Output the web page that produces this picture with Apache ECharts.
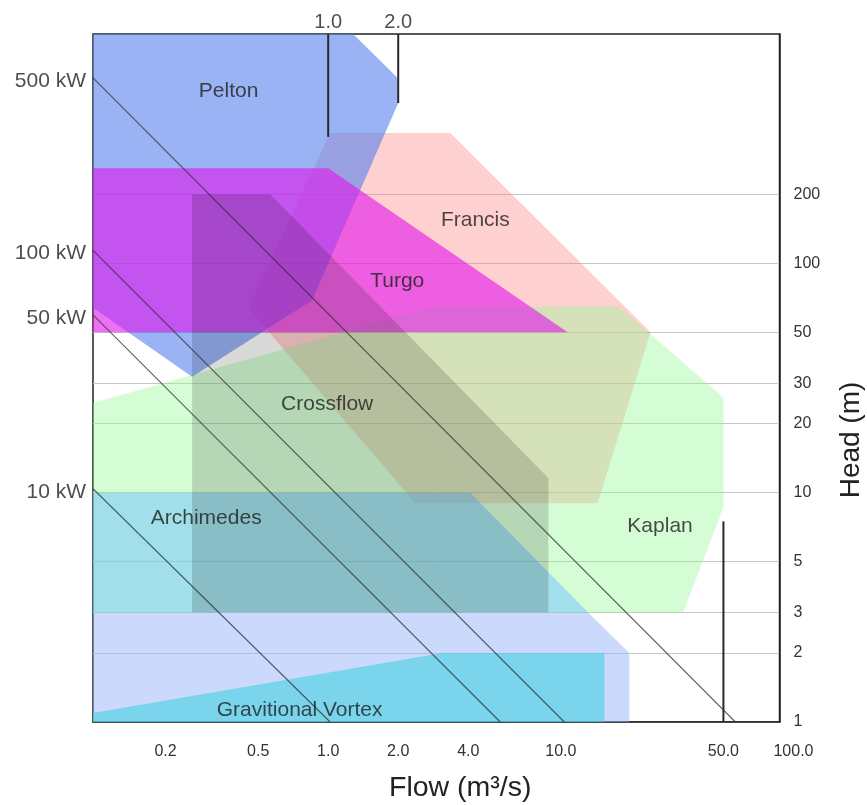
<!DOCTYPE html>
<html><head><meta charset="utf-8">
<script src="https://cdn.jsdelivr.net/npm/echarts@6/dist/echarts.min.js"></script>
<style>html,body{margin:0;padding:0;background:#fff}#chart{width:867px;height:805px}</style>
</head><body><div id="chart"></div>
<script>
// ---- axis extents (flow in m3/s, head in m) ----
const flowRange = [0.0975, 87.1];
const headRange = [1, 1000];

// ---- tick labels ----
const xTickValues = [0.2, 0.5, 1, 2, 4, 10, 50, 100];
const xTickLabels = ['0.2', '0.5', '1.0', '2.0', '4.0', '10.0', '50.0', '100.0'];
const yTickValues = [1, 2, 3, 5, 10, 20, 30, 50, 100, 200];
const yTickLabels = ['1', '2', '3', '5', '10', '20', '30', '50', '100', '200'];

// ---- turbine application regions, vertices as [flow, head] ----
const francis     = [[1.02, 370], [3.35, 370], [24.3, 50], [14.4, 9], [2.37, 9], [0.453, 64]];
const kaplan      = [[0.0975, 24.6], [2.89, 65], [17.7, 65], [50, 26], [50, 8.66], [33.6, 3], [0.0975, 3]];
const pelton      = [[0.0975, 1000], [1.28, 1000], [2, 640], [2, 500], [0.853, 69], [0.26, 32], [0.0975, 64]];
const turgo       = [[0.0975, 260], [1, 260], [10.7, 50], [0.0975, 50]];
const archimedes  = [[0.0975, 10], [4.08, 10], [13.1, 3], [0.0975, 3]];
const crossflow   = [[0.26, 200], [0.563, 200], [8.84, 11.6], [8.84, 3], [0.26, 3]];
const vortexOuter = [[0.0975, 3], [13.1, 3], [19.7, 2], [19.7, 1], [0.0975, 1]];
const vortexInner = [[0.0975, 1.094], [3.1, 2], [15.4, 2], [15.4, 1], [0.0975, 1]];

// ---- region names and label anchors ----
const regionNames     = ['Pelton', 'Francis', 'Turgo', 'Crossflow', 'Archimedes', 'Kaplan', 'Gravitional Vortex'];
const regionLabelFlow = [0.373, 4.29, 1.98, 0.99, 0.299, 26.7, 0.754];
const regionLabelHead = [562, 154.6, 83.8, 24.4, 7.76, 7.16, 1.128];

// ---- constant power lines ----
const powerLabels    = ['500 kW', '100 kW', '50 kW', '10 kW'];
const powerStartFlow = [0.0975, 0.0975, 0.0975, 0.0975];
const powerStartHead = [643, 114, 59.6, 10.4];
const powerEndFlow   = [56.3, 10.35, 5.49, 1.02];
const powerEndHead   = [1, 1, 1, 1];

// ---- flow limit markers ----
const limitLabels     = ['1.0', '2.0', ''];
const limitFlow       = [1, 2, 50];
const limitHeadTop    = [1000, 1000, 7.5];
const limitHeadBottom = [356, 500, 1];

const L = Math.log10;
const FONT = 'Liberation Sans, Arial, Helvetica, sans-serif';

function fmt(values, labels) {
  return function (v) {
    const i = values.findIndex(t => Math.abs(L(t) - v) < 1e-6);
    return i >= 0 ? labels[i] : '';
  };
}

function polygonSeries(name, pts, color) {
  return {
    type: 'custom', name: name, silent: true, clip: true,
    data: pts.map(p => [L(p[0]), L(p[1])]),
    encode: { x: 0, y: 1 },
    renderItem: function (params, api) {
      if (params.dataIndex !== 0) return null;
      const points = pts.map(p => api.coord([L(p[0]), L(p[1])]));
      return { type: 'polygon', shape: { points: points }, style: { fill: color } };
    }
  };
}

const series = [
  polygonSeries('Francis', francis, 'rgba(255,120,120,0.35)'),
  polygonSeries('Kaplan', kaplan, 'rgba(150,250,150,0.4)'),
  polygonSeries('Pelton', pelton, 'rgba(85,128,238,0.6)'),
  polygonSeries('Turgo', turgo, 'rgba(225,20,235,0.6)'),
  polygonSeries('Archimedes', archimedes, 'rgba(110,195,255,0.5)'),
  polygonSeries('Crossflow', crossflow, 'rgba(0,0,0,0.15)'),
  polygonSeries('Gravitional Vortex outer', vortexOuter, 'rgba(150,180,250,0.5)'),
  polygonSeries('Gravitional Vortex', vortexInner, 'rgba(68,208,225,0.6)')
];

// power lines
powerLabels.forEach((lab, i) => {
  series.push({
    type: 'line', name: lab, silent: true, clip: false, showSymbol: false, symbol: 'none',
    data: [[L(powerStartFlow[i]), L(powerStartHead[i])], [L(powerEndFlow[i]), L(powerEndHead[i])]],
    lineStyle: { color: 'rgba(45,45,45,0.75)', width: 1.1 },
    z: 5
  });
});
series.push({
  type: 'scatter', silent: true, clip: false, symbolSize: 0, z: 6,
  data: powerLabels.map((lab, i) => ({ name: lab, value: [L(powerStartFlow[i]), L(powerStartHead[i])] })),
  label: { show: true, position: 'left', distance: 7, offset: [0, 3], formatter: '{b}', fontFamily: FONT, fontSize: 21, color: '#222' }
});

// flow limit markers
limitFlow.forEach((f, i) => {
  series.push({
    type: 'line', silent: true, clip: false, symbol: 'none', z: 6,
    data: [[L(f), L(limitHeadTop[i])], [L(f), L(limitHeadBottom[i])]],
    lineStyle: { color: '#2a2a2a', width: 2 }
  });
});
series.push({
  type: 'scatter', silent: true, clip: false, symbolSize: 0, z: 6,
  data: limitLabels.map((lab, i) => ({ name: lab, value: [L(limitFlow[i]), L(limitHeadTop[i])] })).filter(d => d.name),
  label: { show: true, position: 'top', distance: 2, formatter: '{b}', fontFamily: FONT, fontSize: 20, color: '#222' }
});

// region labels
series.push({
  type: 'scatter', silent: true, clip: false, symbolSize: 0, z: 7,
  data: regionNames.map((n, i) => ({ name: n, value: [L(regionLabelFlow[i]), L(regionLabelHead[i])] })),
  label: { show: true, position: 'inside', formatter: '{b}', fontFamily: FONT, fontSize: 21, color: '#1e1e1e' }
});

// x tick labels lying beyond the plotted flow range (drawn through the same scale)
const xMaxLog = L(flowRange[1]);
series.push({
  type: 'scatter', silent: true, clip: false, symbolSize: 0, z: 7,
  itemStyle: { opacity: 1 },
  data: xTickValues.filter(v => L(v) > xMaxLog).map(v => ({ name: fmt(xTickValues, xTickLabels)(L(v)), value: [L(v), L(headRange[0])] })),
  label: { show: true, position: 'bottom', distance: 22, opacity: 1, formatter: '{b}', fontFamily: FONT, fontSize: 16, color: '#333' },
  labelLayout: { hideOverlap: false }
});

const option = {
  animation: false,
  backgroundColor: '#fff',
  grid: { left: 93, right: 87.5, top: 34, bottom: 83, show: true, borderColor: '#222', borderWidth: 1.5, containLabel: false, outerBoundsMode: 'none' },
  xAxis: {
    type: 'value', min: L(flowRange[0]), max: L(flowRange[1]),
    name: 'Flow (m³/s)', nameLocation: 'middle', nameGap: 52,
    nameTextStyle: { fontFamily: FONT, fontSize: 28.5, color: '#222', padding: [0, 0, 0, 48] },
    axisLine: { show: true, onZero: false, lineStyle: { color: '#222', width: 1.5 } },
    axisTick: { show: false, customValues: xTickValues.map(L) },
    splitLine: { show: false },
    axisLabel: { customValues: xTickValues.map(L), formatter: fmt(xTickValues, xTickLabels), margin: 22, fontFamily: FONT, fontSize: 16, color: '#333', showMinLabel: true, showMaxLabel: true }
  },
  yAxis: {
    type: 'value', position: 'right', min: L(headRange[0]), max: L(headRange[1]),
    name: 'Head (m)', nameLocation: 'middle', nameGap: 58, nameRotate: 90,
    nameTextStyle: { fontFamily: FONT, fontSize: 28, color: '#222', padding: [0, 124, 0, 0] },
    axisLine: { show: true, onZero: false, lineStyle: { color: '#222', width: 1.5 } },
    axisTick: { show: false, customValues: yTickValues.map(L) },
    splitLine: { show: true, lineStyle: { color: '#c6c6c6', width: 1 } },
    axisLabel: { customValues: yTickValues.map(L), formatter: fmt(yTickValues, yTickLabels), margin: 14, fontFamily: FONT, fontSize: 16, color: '#333' }
  },
  series: series
};

const chart = echarts.init(document.getElementById('chart'), null, { renderer: 'canvas' });
chart.setOption(option);
</script>
</body></html>
